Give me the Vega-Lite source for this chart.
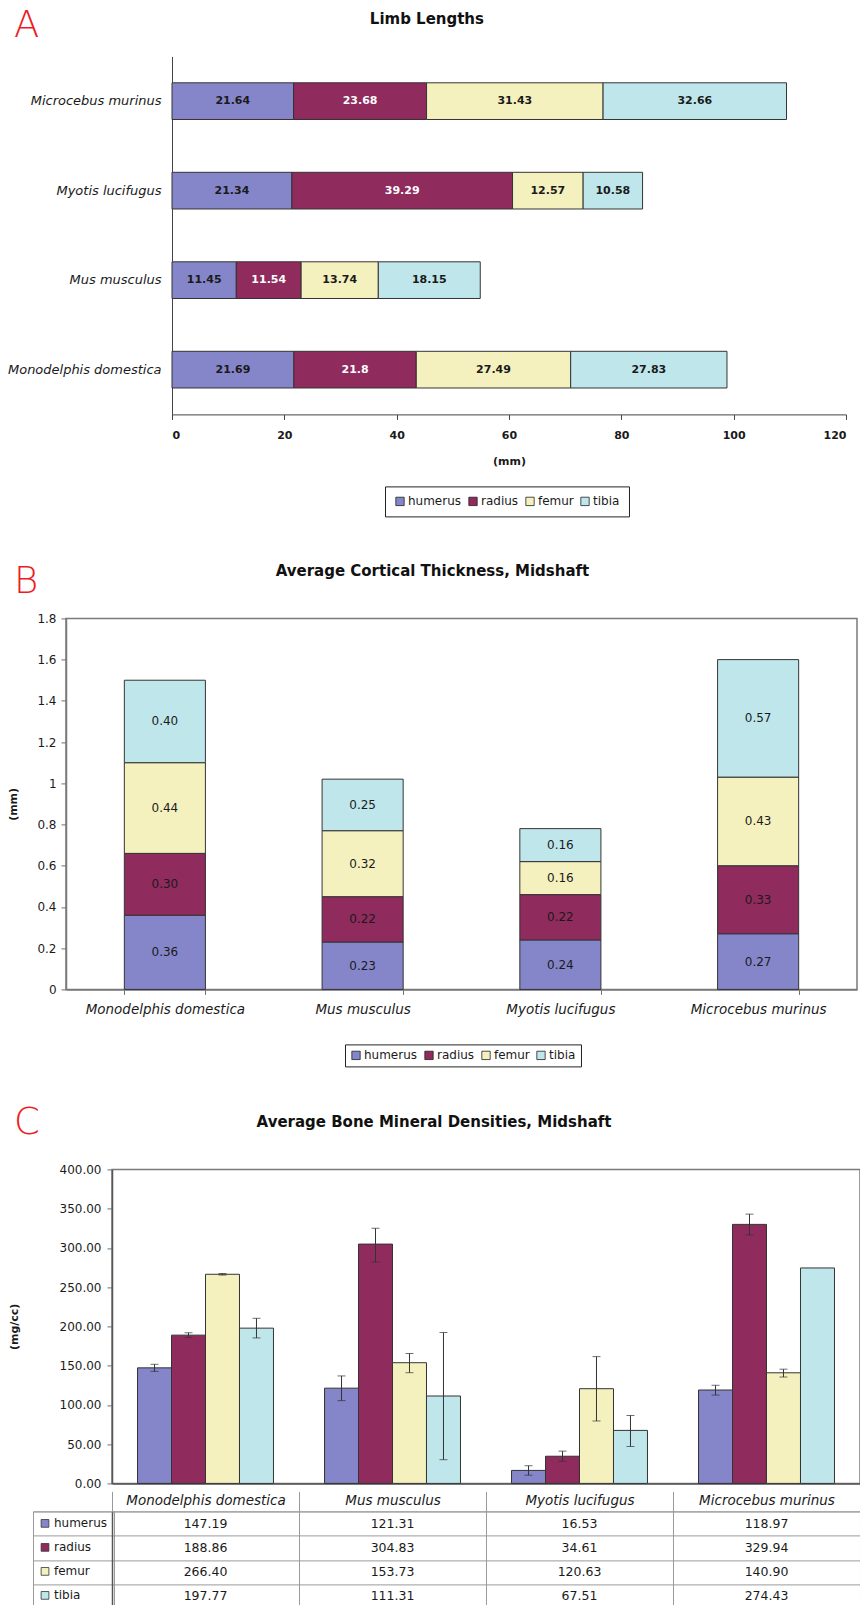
{
  "$schema": "https://vega.github.io/schema/vega-lite/v6.json",
  "padding": {"left": 6, "top": 7.4, "right": 0, "bottom": 0},
  "autosize": {"type": "pad"},
  "background": "white",
  "spacing": 45,
  "resolve": {"scale": {"color": "independent", "x": "independent", "y": "independent"}},
  "config": {
    "font": "DejaVu Sans",
    "axis": {"labelFont": "DejaVu Sans", "titleFont": "DejaVu Sans", "labelColor": "#1a1a1a", "titleColor": "#1a1a1a", "domainColor": "#6e6e6e", "tickColor": "#6e6e6e", "grid": false, "titleFontWeight": "bold", "titleFontSize": 11},
    "legend": {"labelFont": "DejaVu Sans", "labelColor": "#1a1a1a"},
    "title": {"font": "DejaVu Sans"},
    "view": {"stroke": null}
  },
  "datasets": {
    "limb": [
      {"species": "Microcebus murinus", "bone": "humerus", "len": 21.64},
      {"species": "Microcebus murinus", "bone": "radius", "len": 23.68},
      {"species": "Microcebus murinus", "bone": "femur", "len": 31.43},
      {"species": "Microcebus murinus", "bone": "tibia", "len": 32.66},
      {"species": "Myotis lucifugus", "bone": "humerus", "len": 21.34},
      {"species": "Myotis lucifugus", "bone": "radius", "len": 39.29},
      {"species": "Myotis lucifugus", "bone": "femur", "len": 12.57},
      {"species": "Myotis lucifugus", "bone": "tibia", "len": 10.58},
      {"species": "Mus musculus", "bone": "humerus", "len": 11.45},
      {"species": "Mus musculus", "bone": "radius", "len": 11.54},
      {"species": "Mus musculus", "bone": "femur", "len": 13.74},
      {"species": "Mus musculus", "bone": "tibia", "len": 18.15},
      {"species": "Monodelphis domestica", "bone": "humerus", "len": 21.69},
      {"species": "Monodelphis domestica", "bone": "radius", "len": 21.8},
      {"species": "Monodelphis domestica", "bone": "femur", "len": 27.49},
      {"species": "Monodelphis domestica", "bone": "tibia", "len": 27.83}
    ],
    "cort": [
      {"species": "Monodelphis domestica", "bone": "humerus", "t": 0.36},
      {"species": "Monodelphis domestica", "bone": "radius", "t": 0.30},
      {"species": "Monodelphis domestica", "bone": "femur", "t": 0.44},
      {"species": "Monodelphis domestica", "bone": "tibia", "t": 0.40},
      {"species": "Mus musculus", "bone": "humerus", "t": 0.23},
      {"species": "Mus musculus", "bone": "radius", "t": 0.22},
      {"species": "Mus musculus", "bone": "femur", "t": 0.32},
      {"species": "Mus musculus", "bone": "tibia", "t": 0.25},
      {"species": "Myotis lucifugus", "bone": "humerus", "t": 0.24},
      {"species": "Myotis lucifugus", "bone": "radius", "t": 0.22},
      {"species": "Myotis lucifugus", "bone": "femur", "t": 0.16},
      {"species": "Myotis lucifugus", "bone": "tibia", "t": 0.16},
      {"species": "Microcebus murinus", "bone": "humerus", "t": 0.27},
      {"species": "Microcebus murinus", "bone": "radius", "t": 0.33},
      {"species": "Microcebus murinus", "bone": "femur", "t": 0.43},
      {"species": "Microcebus murinus", "bone": "tibia", "t": 0.57}
    ],
    "bmd": [
      {"species": "Monodelphis domestica", "bone": "humerus", "bmd": 147.19, "lo": 142.7, "hi": 151.7},
      {"species": "Monodelphis domestica", "bone": "radius", "bmd": 188.86, "lo": 185.9, "hi": 191.9},
      {"species": "Monodelphis domestica", "bone": "femur", "bmd": 266.40, "lo": 265.4, "hi": 267.4},
      {"species": "Monodelphis domestica", "bone": "tibia", "bmd": 197.77, "lo": 185.3, "hi": 210.3},
      {"species": "Mus musculus", "bone": "humerus", "bmd": 121.31, "lo": 105.4, "hi": 136.9},
      {"species": "Mus musculus", "bone": "radius", "bmd": 304.83, "lo": 282.0, "hi": 325.0},
      {"species": "Mus musculus", "bone": "femur", "bmd": 153.73, "lo": 141.0, "hi": 165.5},
      {"species": "Mus musculus", "bone": "tibia", "bmd": 111.31, "lo": 30.2, "hi": 192.2},
      {"species": "Myotis lucifugus", "bone": "humerus", "bmd": 16.53, "lo": 10.5, "hi": 22.5},
      {"species": "Myotis lucifugus", "bone": "radius", "bmd": 34.61, "lo": 28.1, "hi": 41.1},
      {"species": "Myotis lucifugus", "bone": "femur", "bmd": 120.63, "lo": 79.5, "hi": 161.5},
      {"species": "Myotis lucifugus", "bone": "tibia", "bmd": 67.51, "lo": 47.0, "hi": 86.5},
      {"species": "Microcebus murinus", "bone": "humerus", "bmd": 118.97, "lo": 112.5, "hi": 125.0},
      {"species": "Microcebus murinus", "bone": "radius", "bmd": 329.94, "lo": 316.5, "hi": 343.0},
      {"species": "Microcebus murinus", "bone": "femur", "bmd": 140.90, "lo": 135.5, "hi": 145.5},
      {"species": "Microcebus murinus", "bone": "tibia", "bmd": 274.43, "lo": null, "hi": null}
    ]
  },
  "vconcat": [
    {
      "title": {"text": "A", "anchor": "start", "frame": "bounds", "orient": "top", "fontSize": 37, "fontWeight": 200, "color": "#ec1c24", "baseline": "alphabetic", "offset": -23.5, "dx": 8, "dy": 38.5},
      "spacing": 0,
      "hconcat": [
        {"width": 1, "height": 1, "data": {"values": []}, "mark": "point"},
        {
          "width": 674,
          "height": 358,
          "title": {"text": "Limb Lengths", "fontSize": 15, "fontWeight": "bold", "anchor": "middle", "frame": "bounds", "baseline": "alphabetic", "offset": 17, "color": "#111111"},
          "data": {"name": "limb"},
          "view": {"stroke": null},
          "transform": [
            {"window": [{"op": "row_number", "as": "rn"}]},
            {"stack": "len", "groupby": ["species"], "sort": [{"field": "rn", "order": "ascending"}], "as": ["s0", "s1"]}
          ],
          "encoding": {
            "y": {"field": "species", "type": "nominal", "sort": ["Microcebus murinus", "Myotis lucifugus", "Mus musculus", "Monodelphis domestica"], "scale": {"paddingInner": 0.59, "paddingOuter": 0.295}, "axis": {"title": null, "ticks": false, "labelFontSize": 13, "labelFontStyle": "italic", "labelPadding": 11, "domainColor": "#444444", "labelLimit": 300}}
          },
          "layer": [
            {
              "mark": {"type": "bar", "stroke": "#333333", "strokeWidth": 1},
              "encoding": {
                "x": {"field": "s0", "type": "quantitative", "title": "(mm)", "scale": {"domain": [0, 120], "nice": false}, "axis": {"values": [0, 20, 40, 60, 80, 100, 120], "labelFontWeight": "bold", "labelFontSize": 11, "tickSize": 5, "labelPadding": 10, "titlePadding": 15, "domainColor": "#444444", "tickColor": "#444444"}},
                "x2": {"field": "s1"},
                "color": {"field": "bone", "type": "nominal", "scale": {"domain": ["humerus", "radius", "femur", "tibia"], "range": ["#8585c9", "#8f2b5d", "#f4f1bf", "#bfe7eb"]}, "legend": {"orient": "none", "legendX": 379, "legendY": 430, "direction": "horizontal", "title": null, "strokeColor": "#222222", "fillColor": "white", "padding": 9, "symbolType": "square", "symbolSize": 70, "symbolStrokeColor": "#222222", "symbolStrokeWidth": 0.8, "labelFontSize": 12, "labelOffset": 2, "columnPadding": 5}}
              }
            },
            {
              "mark": {"type": "text", "fontSize": 11, "fontWeight": "bold"},
              "transform": [
                {"fold": ["s0", "s1"], "as": ["edge", "pos"]},
                {"aggregate": [{"op": "mean", "field": "pos", "as": "mid"}], "groupby": ["species", "bone", "len"]}
              ],
              "encoding": {
                "x": {"field": "mid", "type": "quantitative", "title": "(mm)", "axis": {"values": [0, 20, 40, 60, 80, 100, 120], "labelFontWeight": "bold", "labelFontSize": 11, "tickSize": 5, "labelPadding": 10, "titlePadding": 15, "domainColor": "#444444", "tickColor": "#444444"}},
                "text": {"field": "len", "type": "quantitative"},
                "color": {"condition": {"test": "datum.bone === 'radius'", "value": "#ffffff"}, "value": "#1a1a1a"}
              }
            }
          ]
        }
      ]
    },
    {
      "spacing": 36,
      "resolve": {"scale": {"color": "independent", "x": "independent", "y": "independent"}},
      "vconcat": [
        {
          "title": {"text": "B", "anchor": "start", "frame": "bounds", "orient": "top", "fontSize": 37, "fontWeight": 200, "color": "#ec1c24", "baseline": "alphabetic", "offset": -23.5, "dx": 8, "dy": 43.6},
          "spacing": 0,
          "hconcat": [
            {"width": 1, "height": 1, "data": {"values": []}, "mark": "point"},
            {
              "width": 791,
              "height": 371,
              "title": {"text": "Average Cortical Thickness, Midshaft", "fontSize": 15, "fontWeight": "bold", "anchor": "middle", "frame": "bounds", "baseline": "alphabetic", "offset": 21.8, "color": "#111111"},
              "data": {"name": "cort"},
              "view": {"stroke": "#7a7a7a", "strokeWidth": 1.5},
              "transform": [
                {"window": [{"op": "row_number", "as": "rn"}]},
                {"stack": "t", "groupby": ["species"], "sort": [{"field": "rn", "order": "ascending"}], "as": ["s0", "s1"]}
              ],
              "encoding": {
                "x": {"field": "species", "type": "nominal", "sort": ["Monodelphis domestica", "Mus musculus", "Myotis lucifugus", "Microcebus murinus"], "scale": {"paddingInner": 0.59, "paddingOuter": 0.295}, "axis": {"title": null, "labelAngle": 0, "labelFontStyle": "italic", "labelFontSize": 13.5, "tickBand": "extent", "tickSize": 5, "labelPadding": 8, "domainColor": "#7a7a7a", "domainWidth": 1.5, "labelLimit": 300}}
              },
              "layer": [
                {
                  "mark": {"type": "bar", "stroke": "#333333", "strokeWidth": 1},
                  "encoding": {
                    "y": {"field": "s0", "type": "quantitative", "title": "(mm)", "scale": {"domain": [0, 1.8], "nice": false}, "axis": {"values": [0, 0.2, 0.4, 0.6, 0.8, 1, 1.2, 1.4, 1.6, 1.8], "format": ".1~f", "labelFontSize": 12, "tickSize": 5, "labelPadding": 5, "titlePadding": 18, "domainColor": "#7a7a7a", "domainWidth": 1.5}},
                    "y2": {"field": "s1"},
                    "color": {"field": "bone", "type": "nominal", "scale": {"domain": ["humerus", "radius", "femur", "tibia"], "range": ["#8585c9", "#8f2b5d", "#f4f1bf", "#bfe7eb"]}, "legend": {"orient": "none", "legendX": 339, "legendY": 426, "direction": "horizontal", "title": null, "strokeColor": "#222222", "fillColor": "white", "padding": 5, "symbolType": "square", "symbolSize": 70, "symbolStrokeColor": "#222222", "symbolStrokeWidth": 0.8, "labelFontSize": 12, "labelOffset": 2, "columnPadding": 5}}
                  }
                },
                {
                  "mark": {"type": "text", "fontSize": 12},
                  "transform": [
                    {"fold": ["s0", "s1"], "as": ["edge", "pos"]},
                    {"aggregate": [{"op": "mean", "field": "pos", "as": "mid"}], "groupby": ["species", "bone", "t"]}
                  ],
                  "encoding": {
                    "y": {"field": "mid", "type": "quantitative", "title": "(mm)", "axis": {"values": [0, 0.2, 0.4, 0.6, 0.8, 1, 1.2, 1.4, 1.6, 1.8], "format": ".1~f", "labelFontSize": 12, "tickSize": 5, "labelPadding": 5, "titlePadding": 18, "domainColor": "#7a7a7a", "domainWidth": 1.5}},
                    "text": {"field": "t", "type": "quantitative", "format": ".2f"},
                    "color": {"value": "#1a1a1a"}
                  }
                }
              ]
            }
          ]
        },
        {
          "title": {"text": "C", "anchor": "start", "frame": "bounds", "orient": "top", "fontSize": 37, "fontWeight": 200, "color": "#ec1c24", "baseline": "alphabetic", "offset": -23.5, "dx": 8, "dy": 33.4},
          "spacing": 0,
          "hconcat": [
            {"width": 1, "height": 1, "data": {"values": []}, "mark": "point"},
            {
              "spacing": 0,
              "resolve": {"scale": {"color": "independent", "x": "independent", "y": "independent"}},
              "vconcat": [
                {
                  "width": 748,
                  "height": 314,
                  "title": {"text": "Average Bone Mineral Densities, Midshaft", "fontSize": 15, "fontWeight": "bold", "anchor": "middle", "frame": "bounds", "baseline": "alphabetic", "offset": 21.5, "color": "#111111"},
                  "data": {"name": "bmd"},
                  "view": {"stroke": "#7a7a7a", "strokeWidth": 1.5},
                  "encoding": {
                    "x": {"field": "species", "type": "nominal", "sort": ["Monodelphis domestica", "Mus musculus", "Myotis lucifugus", "Microcebus murinus"], "scale": {"paddingInner": 0.273, "paddingOuter": 0.1365}, "axis": {"labels": false, "ticks": false, "title": null, "domainColor": "#555555", "domainWidth": 1.5}},
                    "xOffset": {"field": "bone", "type": "nominal", "sort": ["humerus", "radius", "femur", "tibia"]}
                  },
                  "layer": [
                    {
                      "mark": {"type": "bar", "stroke": "#333333", "strokeWidth": 1},
                      "encoding": {
                        "y": {"field": "bmd", "type": "quantitative", "title": "(mg/cc)", "scale": {"domain": [0, 400], "nice": false}, "axis": {"values": [0, 50, 100, 150, 200, 250, 300, 350, 400], "format": ".2f", "labelFontSize": 12, "tickSize": 5, "labelPadding": 6, "titlePadding": 40, "domainColor": "#555555", "domainWidth": 1.5, "labelOverlap": false}},
                        "color": {"field": "bone", "type": "nominal", "scale": {"domain": ["humerus", "radius", "femur", "tibia"], "range": ["#8585c9", "#8f2b5d", "#f4f1bf", "#bfe7eb"]}, "legend": null}
                      }
                    },
                    {
                      "mark": {"type": "rule", "color": "#333333", "strokeWidth": 1},
                      "encoding": {
                        "y": {"field": "lo", "type": "quantitative", "title": "(mg/cc)", "axis": {"values": [0, 50, 100, 150, 200, 250, 300, 350, 400], "format": ".2f", "labelFontSize": 12, "tickSize": 5, "labelPadding": 6, "titlePadding": 40, "domainColor": "#555555", "domainWidth": 1.5, "labelOverlap": false}},
                        "y2": {"field": "hi"}
                      }
                    },
                    {
                      "mark": {"type": "tick", "color": "#333333", "thickness": 1, "size": 8, "orient": "horizontal"},
                      "transform": [{"fold": ["lo", "hi"], "as": ["end", "v"]}],
                      "encoding": {
                        "y": {"field": "v", "type": "quantitative", "title": "(mg/cc)", "axis": {"values": [0, 50, 100, 150, 200, 250, 300, 350, 400], "format": ".2f", "labelFontSize": 12, "tickSize": 5, "labelPadding": 6, "titlePadding": 40, "domainColor": "#555555", "domainWidth": 1.5, "labelOverlap": false}}
                      }
                    }
                  ]
                },
                {
                  "width": 748,
                  "height": 97,
                  "data": {"name": "bmd"},
                  "view": {"stroke": "#9a9a9a", "strokeWidth": 1},
                  "encoding": {
                    "x": {"field": "species", "type": "nominal", "sort": ["Monodelphis domestica", "Mus musculus", "Myotis lucifugus", "Microcebus murinus"], "scale": {"paddingInner": 0, "paddingOuter": 0}, "axis": {"orient": "top", "title": null, "labelAngle": 0, "labelFontStyle": "italic", "labelFontSize": 13.5, "tickBand": "extent", "tickSize": 20, "labelPadding": -16, "grid": true, "gridColor": "#9a9a9a", "tickColor": "#9a9a9a", "domain": false, "labelLimit": 300}},
                    "y": {"field": "bone", "type": "nominal", "sort": ["humerus", "radius", "femur", "tibia"], "scale": {"paddingInner": 0, "paddingOuter": 0}, "axis": {"title": null, "labels": false, "tickBand": "extent", "tickSize": 79, "grid": true, "gridColor": "#9a9a9a", "tickColor": "#9a9a9a", "domainColor": "#555555", "domainWidth": 1.5}}
                  },
                  "layer": [
                    {
                      "mark": {"type": "square", "opacity": 0},
                      "encoding": {
                        "color": {"field": "bone", "type": "nominal", "scale": {"domain": ["humerus", "radius", "femur", "tibia"], "range": ["#8585c9", "#8f2b5d", "#f4f1bf", "#bfe7eb"]}, "legend": {"orient": "none", "legendX": -79, "legendY": 0, "direction": "vertical", "title": null, "strokeColor": "#9a9a9a", "padding": 6, "rowPadding": 12, "symbolType": "square", "symbolSize": 60, "symbolOpacity": 1, "symbolStrokeColor": "#333333", "symbolStrokeWidth": 0.8, "labelFontSize": 12, "labelOffset": 3}}
                      }
                    },
                    {
                      "mark": {"type": "text", "fontSize": 12.5, "color": "#1a1a1a"},
                      "encoding": {
                        "text": {"field": "bmd", "type": "quantitative", "format": ".2f"}
                      }
                    }
                  ]
                }
              ]
            }
          ]
        }
      ]
    }
  ]
}
